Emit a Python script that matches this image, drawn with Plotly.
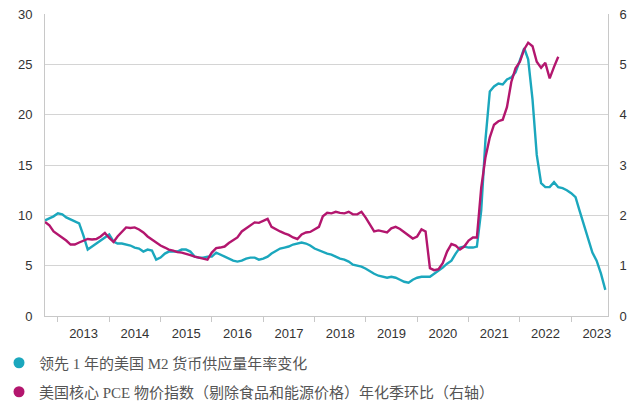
import pandas as pd
import plotly.graph_objects as go

# Monthly dates, Oct 2012 onward
start = "2012-10-01"

m2_lead = [
    9.5, 9.7, 9.9, 10.2, 10.1, 9.8, 9.6, 9.4, 9.2, 8.0,
    6.6, 6.9, 7.2, 7.5, 7.8, 8.1, 7.4, 7.2, 7.2, 7.1,
    7.0, 6.8, 6.7, 6.4, 6.6, 6.5, 5.6, 5.8, 6.2, 6.4,
    6.4, 6.4, 6.6, 6.6, 6.4, 5.9, 5.8, 5.8, 5.9, 5.9,
    6.3, 6.1, 5.9, 5.7, 5.5, 5.4, 5.5, 5.7, 5.8, 5.8,
    5.6, 5.7, 5.9, 6.2, 6.5, 6.7, 6.8, 6.9, 7.1, 7.2,
    7.3, 7.2, 7.0, 6.7, 6.5, 6.4, 6.2, 6.1, 5.9, 5.7,
    5.6, 5.4, 5.1, 5.0, 4.9, 4.7, 4.4, 4.2, 4.0, 3.9,
    3.8, 3.9, 3.8, 3.6, 3.4, 3.3, 3.6, 3.8, 3.9, 3.9,
    3.9, 4.2, 4.5, 4.8, 5.2, 5.5, 6.2, 6.8, 6.9, 6.8,
    6.8, 6.9, 10.5, 17.5, 22.3, 22.8, 23.1, 23.0, 23.5, 23.7,
    24.2, 25.3, 26.6, 25.5, 21.5, 16.0, 13.2, 12.8, 12.8, 13.3,
    12.8, 12.7, 12.5, 12.2, 11.8, 10.5, 9.0, 7.6, 6.3, 5.5,
    4.2, 2.6,
]

core_pce = [
    1.87, 1.80, 1.68, 1.62, 1.57, 1.50, 1.42, 1.42, 1.46, 1.50,
    1.53, 1.52, 1.53, 1.58, 1.65, 1.55, 1.47, 1.58, 1.68, 1.76,
    1.75, 1.76, 1.72, 1.66, 1.58, 1.52, 1.45, 1.40, 1.36, 1.32,
    1.30, 1.27, 1.26, 1.24, 1.21, 1.18, 1.16, 1.15, 1.12, 1.26,
    1.35, 1.36, 1.38, 1.45, 1.50, 1.56, 1.68, 1.74, 1.80, 1.86,
    1.85, 1.89, 1.93, 1.77, 1.72, 1.68, 1.64, 1.61, 1.56, 1.53,
    1.62, 1.66, 1.67, 1.72, 1.77, 1.98, 2.05, 2.04, 2.07, 2.05,
    2.04, 2.07, 2.02, 2.02, 2.07, 1.95, 1.82, 1.68, 1.70, 1.68,
    1.66, 1.74, 1.77, 1.73, 1.67, 1.60, 1.54, 1.58, 1.72, 1.68,
    0.95, 0.91, 0.93, 1.05, 1.28, 1.43, 1.40, 1.32, 1.38, 1.50,
    1.56, 1.56, 2.55, 3.15, 3.55, 3.80, 3.87, 3.90, 4.15, 4.65,
    4.92, 5.05, 5.30, 5.43, 5.36, 5.05, 4.93, 5.03, 4.72, 4.95,
    5.15,
]

name_m2 = "领先 1 年的美国 M2 货币供应量年率变化"
name_pce = "美国核心 PCE 物价指数（剔除食品和能源价格）年化季环比（右轴）"

teal = "#1BA7BD"
magenta = "#B3166E"

dates_m2 = pd.date_range(start, periods=len(m2_lead), freq="MS")
dates_pce = pd.date_range(start, periods=len(core_pce), freq="MS")

fig = go.Figure()
fig.add_trace(go.Scatter(x=dates_m2, y=m2_lead, mode="lines",
                         line=dict(color=teal, width=2.4), showlegend=False, yaxis="y"))
fig.add_trace(go.Scatter(x=dates_pce, y=core_pce, mode="lines",
                         line=dict(color=magenta, width=2.4), showlegend=False, yaxis="y2"))

# legend entries with round markers
fig.add_trace(go.Scatter(x=[None], y=[None], mode="markers", name=name_m2,
                         marker=dict(color=teal, size=11), legend="legend"))
fig.add_trace(go.Scatter(x=[None], y=[None], mode="markers", name=name_pce,
                         marker=dict(color=magenta, size=11), legend="legend2"))

legend_font = dict(family="Liberation Serif, Noto Sans CJK SC", size=15, color="#555555")

W, H = 631, 400
L, R, T, B = 37, 31, 6, 92
plot_w = W - L - R
leg_x = (-9 - L) / plot_w

fig.update_layout(
    width=W, height=H,
    margin=dict(l=L, r=R, t=T, b=B, autoexpand=False),
    paper_bgcolor="white", plot_bgcolor="white",
    font=dict(family="Liberation Sans, Arial", size=13, color="#333333"),
    xaxis=dict(
        type="date",
        range=["2012-10-01", "2023-09-20"],
        tick0="2013-01-01", dtick="M12", tickformat="%Y",
        ticklabelmode="period",
        ticks="outside", ticklen=5, tickcolor="#c8c8c8",
        showgrid=False, showline=True, linecolor="#c8c8c8", linewidth=1,
        tickfont=dict(size=13, color="#333333"),
    ),
    yaxis=dict(
        range=[0, 30], dtick=5, showgrid=True, gridcolor="#d4d4d4", gridwidth=1,
        showline=True, linecolor="#c8c8c8", linewidth=1, zeroline=False,
        ticks="", tickfont=dict(size=13, color="#333333"),
        ticklabeloverflow="allow", ticklabelstandoff=9,
    ),
    yaxis2=dict(
        range=[0, 6], dtick=1, overlaying="y", side="right", showgrid=False,
        showline=True, linecolor="#c8c8c8", linewidth=1, zeroline=False,
        ticks="", tickfont=dict(size=13, color="#333333"),
        ticklabeloverflow="allow", ticklabelstandoff=8,
    ),
    legend=dict(xref="paper", yref="container", x=leg_x, y=1 - 355 / H,
                xanchor="left", yanchor="middle", font=legend_font,
                bgcolor="rgba(0,0,0,0)"),
    legend2=dict(xref="paper", yref="container", x=leg_x, y=1 - 384 / H,
                 xanchor="left", yanchor="middle", font=legend_font,
                 bgcolor="rgba(0,0,0,0)"),
)

fig.write_html("out.html")
